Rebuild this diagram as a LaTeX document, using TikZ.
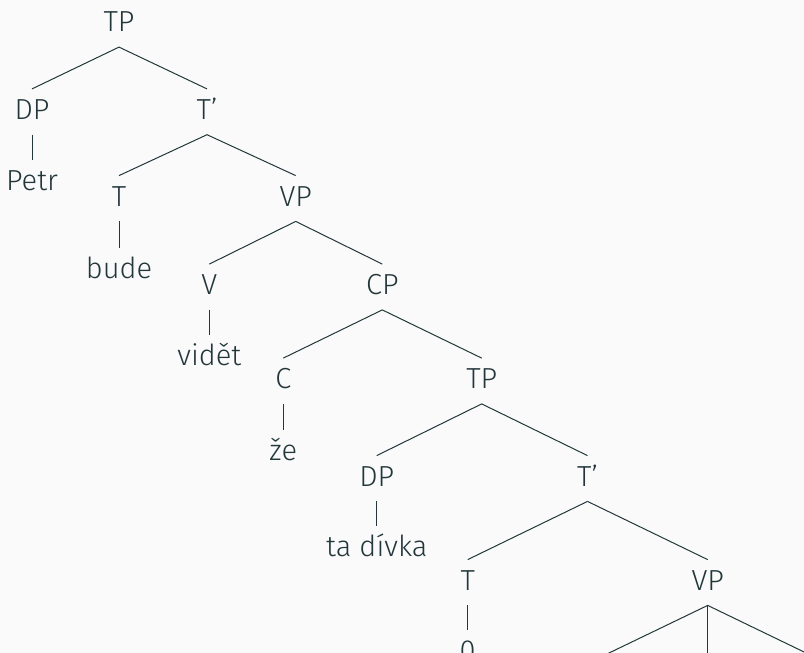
\documentclass[tikz,border=0pt]{standalone}
\usepackage{fontspec}
\setmainfont{Fira Sans}[UprightFont=* Light]
\usepackage{xcolor}
\definecolor{mDark}{HTML}{23373B}
\definecolor{mBg}{HTML}{FAFAFA}

\begin{document}
\begin{tikzpicture}[x=0.5pt,y=-0.5pt]
            \tikzstyle{myCat}=[anchor=base,text height=10pt,text depth=2.5pt,inner xsep=0pt,inner ysep=5pt,
                               font=\fontsize{14.5}{17}\selectfont,text=mDark];
            \tikzstyle{myBranch}=[draw=mDark,line width=0.5pt];
            \clip (0,0) rectangle (804,653);
            \fill[mBg] (0,0) rectangle (804,653);
            \node[myCat] (tp1)   at (119,31.7)    {TP};
            \node[myCat] (dp1)   at (32,119.3)    {DP};
            \node[myCat] (tb1)   at (207,119.3)   {T'};
            \node[myCat] (petr)  at (32,190)      {Petr};
            \node[myCat] (t1)    at (119,206)     {T};
            \node[myCat] (vp1)   at (295.7,206)   {VP};
            \node[myCat] (bude)  at (119,278.3)   {bude};
            \node[myCat] (v1)    at (209.3,294.5) {V};
            \node[myCat] (cp)    at (382.3,294.5) {CP};
            \node[myCat] (videt) at (209.3,365.7) {vidět};
            \node[myCat] (c)     at (283.3,388.5) {C};
            \node[myCat] (tp2)   at (481.7,388.5) {TP};
            \node[myCat] (ze)    at (283.3,460)   {že};
            \node[myCat] (dp2)   at (376.7,486)   {DP};
            \node[myCat] (tb2)   at (587.5,486)   {T'};
            \node[myCat] (divka) at (376.7,556.7) {ta dívka};
            \node[myCat] (t2)    at (467.7,590)   {T};
            \node[myCat] (vp2)   at (707.7,590)   {VP};
            \node[myCat] (zero)  at (467.7,660)   {0};
            \coordinate (vpa) at (553,680);
            \coordinate (vpb) at (707.7,680);
            \coordinate (vpc) at (862,680);
            \draw[myBranch] (tp1.south) -- (dp1.north);
            \draw[myBranch] (tp1.south) -- (tb1.north);
            \draw[myBranch] (dp1.south) -- (petr.north);
            \draw[myBranch] (tb1.south) -- (t1.north);
            \draw[myBranch] (tb1.south) -- (vp1.north);
            \draw[myBranch] (t1.south) -- (bude.north);
            \draw[myBranch] (vp1.south) -- (v1.north);
            \draw[myBranch] (vp1.south) -- (cp.north);
            \draw[myBranch] (v1.south) -- (videt.north);
            \draw[myBranch] (cp.south) -- (c.north);
            \draw[myBranch] (cp.south) -- (tp2.north);
            \draw[myBranch] (c.south) -- (ze.north);
            \draw[myBranch] (tp2.south) -- (dp2.north);
            \draw[myBranch] (tp2.south) -- (tb2.north);
            \draw[myBranch] (dp2.south) -- (divka.north);
            \draw[myBranch] (tb2.south) -- (t2.north);
            \draw[myBranch] (tb2.south) -- (vp2.north);
            \draw[myBranch] (t2.south) -- (zero.north);
            \draw[myBranch] (vp2.south) -- (vpa);
            \draw[myBranch] (vp2.south) -- (vpb);
            \draw[myBranch] (vp2.south) -- (vpc);
\end{tikzpicture}
\end{document}
